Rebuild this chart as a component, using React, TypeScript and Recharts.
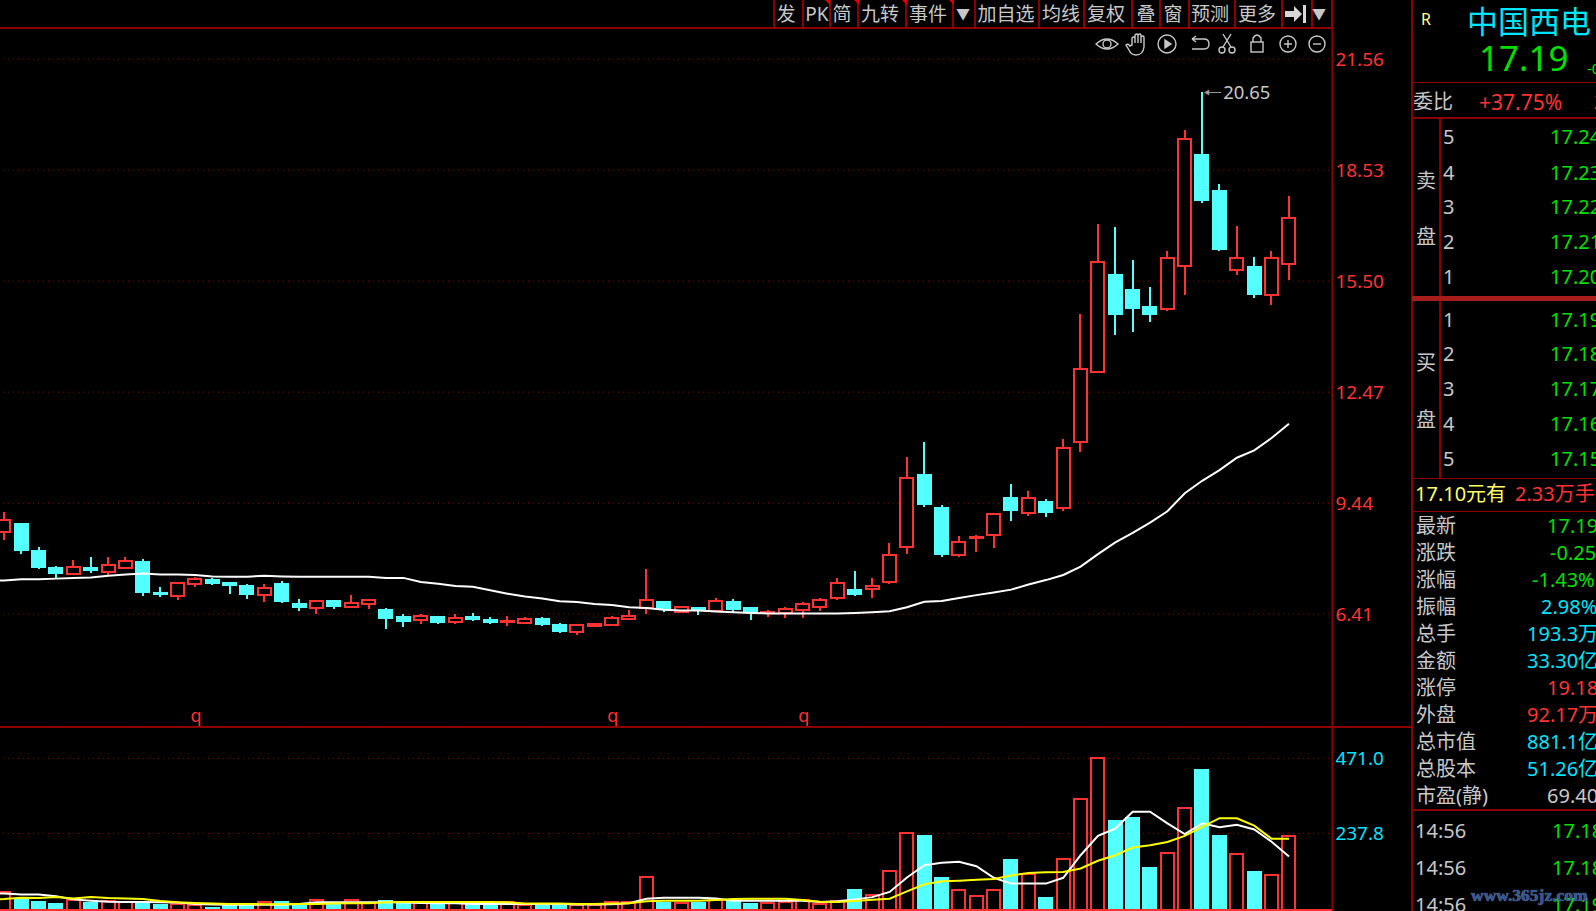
import { Bar, CartesianGrid, ComposedChart, Line, ReferenceDot, ReferenceLine, XAxis, YAxis } from "recharts";

const RED = "#ff3232";
const CYAN = "#54ffff";
const AXIS = "#8c0000";
const GREY = "#c8c8c8";
const GREEN = "#00e000";
const QUOTE_CYAN = "#00e5ff";
const FONT = "'Noto Sans', 'Noto Sans CJK SC', sans-serif";

// daily prices, oldest first
const opens = [8.64, 8.90, 8.17, 7.70, 7.51, 7.70, 7.57, 7.67, 7.87, 7.02, 6.91, 7.24, 7.37, 7.29, 7.21, 6.94, 7.27, 6.72, 6.58, 6.80, 6.61, 6.69, 6.56, 6.36, 6.25, 6.36, 6.20, 6.36, 6.28, 6.20, 6.17, 6.31, 6.15, 5.93, 6.09, 6.12, 6.28, 6.58, 6.77, 6.46, 6.61, 6.50, 6.77, 6.61, 6.45, 6.45, 6.53, 6.61, 6.86, 7.10, 7.10, 7.30, 8.25, 10.24, 9.33, 8.03, 8.50, 8.56, 9.60, 9.17, 9.51, 9.32, 11.12, 13.02, 15.70, 15.29, 14.82, 14.75, 15.90, 18.98, 18.00, 15.81, 15.90, 15.13, 15.98];
const closes = [8.98, 8.14, 7.67, 7.51, 7.70, 7.59, 7.76, 7.87, 6.99, 6.94, 7.27, 7.37, 7.24, 7.18, 6.94, 7.13, 6.75, 6.58, 6.77, 6.61, 6.72, 6.80, 6.28, 6.20, 6.36, 6.17, 6.31, 6.26, 6.17, 6.23, 6.28, 6.12, 5.93, 6.12, 6.15, 6.31, 6.36, 6.80, 6.56, 6.61, 6.50, 6.77, 6.53, 6.45, 6.47, 6.56, 6.69, 6.80, 7.27, 6.94, 7.18, 8.02, 10.14, 9.38, 8.02, 8.39, 8.51, 9.14, 9.22, 9.58, 9.16, 10.94, 13.10, 16.01, 14.57, 14.74, 14.57, 16.13, 19.38, 17.68, 16.35, 16.13, 15.12, 16.13, 17.22];
const highs = [9.19, 8.90, 8.25, 7.73, 7.89, 7.97, 7.97, 7.97, 7.92, 7.16, 7.27, 7.43, 7.40, 7.29, 7.24, 7.24, 7.32, 6.83, 6.77, 6.80, 6.94, 6.83, 6.58, 6.42, 6.42, 6.36, 6.42, 6.45, 6.34, 6.36, 6.34, 6.34, 6.17, 6.12, 6.17, 6.36, 6.53, 7.65, 6.77, 6.61, 6.61, 6.86, 6.83, 6.61, 6.53, 6.61, 6.75, 6.86, 7.40, 7.59, 7.41, 8.34, 10.69, 11.12, 9.40, 8.55, 8.57, 9.14, 9.95, 9.78, 9.56, 11.20, 14.61, 17.07, 16.99, 16.09, 15.35, 16.33, 19.63, 20.65, 18.14, 17.01, 16.17, 16.33, 17.83];
const lows = [8.44, 8.06, 7.65, 7.40, 7.48, 7.54, 7.48, 7.65, 6.91, 6.88, 6.80, 7.16, 7.21, 6.96, 6.83, 6.75, 6.72, 6.50, 6.42, 6.56, 6.58, 6.56, 6.01, 6.06, 6.15, 6.15, 6.15, 6.23, 6.15, 6.09, 6.15, 6.09, 5.90, 5.85, 6.06, 6.09, 6.26, 6.42, 6.47, 6.43, 6.39, 6.46, 6.47, 6.26, 6.34, 6.31, 6.31, 6.50, 6.80, 6.91, 6.85, 7.22, 8.05, 9.34, 7.98, 7.98, 8.12, 8.21, 8.96, 9.10, 9.05, 9.22, 10.83, 12.98, 14.02, 14.12, 14.38, 14.68, 15.12, 17.63, 16.31, 15.66, 15.04, 14.84, 15.52];
const priceMa = [7.33, 7.36, 7.36, 7.38, 7.40, 7.41, 7.46, 7.49, 7.52, 7.49, 7.49, 7.48, 7.44, 7.43, 7.43, 7.46, 7.44, 7.43, 7.43, 7.43, 7.43, 7.43, 7.40, 7.40, 7.29, 7.24, 7.18, 7.16, 7.06, 6.97, 6.89, 6.84, 6.76, 6.74, 6.69, 6.66, 6.60, 6.58, 6.53, 6.51, 6.51, 6.48, 6.46, 6.44, 6.43, 6.43, 6.43, 6.43, 6.43, 6.44, 6.46, 6.49, 6.60, 6.75, 6.77, 6.85, 6.93, 7.00, 7.08, 7.22, 7.34, 7.48, 7.71, 8.05, 8.37, 8.63, 8.91, 9.22, 9.71, 10.05, 10.34, 10.68, 10.88, 11.22, 11.61];

const volumes = [57, 34, 29, 22, 30, 26, 29, 24, 24, 20, 18, 16, 9, 15, 15, 26, 27, 18, 30, 19, 30, 23, 30, 23, 24, 19, 21, 18, 18, 26, 17, 17, 17, 17, 17, 26, 26, 102, 25, 21, 25, 30, 31, 23, 21, 26, 30, 18, 29, 65, 46, 122, 240, 232, 104, 63, 44, 63, 158, 112, 40, 159, 346, 473, 279, 289, 133, 178, 318, 438, 232, 174, 121, 109, 230];
const volMa5 = [51, 48, 48, 43, 33, 29, 26, 25, 25, 24, 23, 19, 17, 16, 16, 16, 16, 19, 24, 24, 24, 24, 24, 23, 22, 21, 21, 19, 19, 19, 19, 19, 19, 17, 17, 18, 21, 35, 38, 38, 38, 36, 29, 29, 29, 29, 29, 25, 27, 33, 40, 56, 101, 139, 147, 150, 136, 100, 82, 82, 82, 100, 170, 230, 253, 305, 305, 269, 236, 269, 257, 265, 250, 212, 166];
const volMa10 = [34, 38, 37, 40, 36, 40, 37, 36, 34, 28, 24, 22, 20, 19, 19, 18, 18, 19, 19, 20, 21, 21, 24, 25, 25, 25, 25, 25, 25, 24, 20, 20, 20, 19, 19, 20, 21, 27, 29, 29, 29, 31, 34, 35, 35, 35, 31, 26, 25, 28, 32, 35, 58, 80, 89, 91, 94, 96, 107, 115, 117, 118, 129, 153, 170, 194, 201, 211, 230, 258, 285, 285, 262, 221, 221];

const priceTicks = [6.41, 9.44, 12.47, 15.5, 18.53, 21.56];
const volumeTicks = [237.8, 471.0];
const eventDays = [11, 35, 46];
const EVENT_LEVEL = 3.63;
const HIGH_DAY = 69;
const HIGH_PRICE = 20.65;

// the averages run in from the day just off the left edge, and the terminal
// leaves two empty slots right of the last candle
const rows = [
    { day: -1, ma: 7.32, vol5: 52, vol10: 33 },
    ...opens.map((open, i) => ({
        day: i,
        open,
        close: closes[i],
        range: [lows[i], highs[i]],
        ma: priceMa[i],
        volume: volumes[i],
        vol5: volMa5[i],
        vol10: volMa10[i],
    })),
    { day: 75 },
    { day: 76 },
];

const toolbarItems = [
    { text: "发", x: 786 },
    { text: "PK", x: 817, flag: 828 },
    { text: "简", x: 842, flag: 857 },
    { text: "九转", x: 880, flag: 905 },
    { text: "事件", x: 928, flag: 952 },
    { text: "▼", x: 963, small: true },
    { text: "加自选", x: 1006 },
    { text: "均线", x: 1061 },
    { text: "复权", x: 1106 },
    { text: "叠", x: 1146 },
    { text: "窗", x: 1173 },
    { text: "预测", x: 1210 },
    { text: "更多", x: 1257 },
    { text: "▼", x: 1319, small: true },
];
const toolbarSeparators = [774, 803, 830, 858, 906, 953, 975, 1039, 1084, 1132, 1160, 1189, 1235, 1282, 1312, 1332];

const askLevels = [
    { n: "5", price: "17.24", y: 137 },
    { n: "4", price: "17.23", y: 173 },
    { n: "3", price: "17.22", y: 207 },
    { n: "2", price: "17.21", y: 242 },
    { n: "1", price: "17.20", y: 277 },
];
const bidLevels = [
    { n: "1", price: "17.19", y: 320 },
    { n: "2", price: "17.18", y: 354 },
    { n: "3", price: "17.17", y: 389 },
    { n: "4", price: "17.16", y: 424 },
    { n: "5", price: "17.15", y: 459 },
];
const quoteRows = [
    { name: "最新", value: "17.19", x: 1547, color: GREEN, y: 526 },
    { name: "涨跌", value: "-0.25", x: 1550, color: GREEN, y: 553 },
    { name: "涨幅", value: "-1.43%", x: 1532, color: GREEN, y: 580 },
    { name: "振幅", value: "2.98%", x: 1541, color: QUOTE_CYAN, y: 607 },
    { name: "总手", value: "193.3万", x: 1527, color: QUOTE_CYAN, y: 634 },
    { name: "金额", value: "33.30亿", x: 1527, color: QUOTE_CYAN, y: 661 },
    { name: "涨停", value: "19.18", x: 1547, color: RED, y: 688 },
    { name: "外盘", value: "92.17万", x: 1527, color: RED, y: 715 },
    { name: "总市值", value: "881.1亿", x: 1527, color: QUOTE_CYAN, y: 742 },
    { name: "总股本", value: "51.26亿", x: 1527, color: QUOTE_CYAN, y: 769 },
    { name: "市盈(静)", value: "69.40", x: 1547, color: GREY, y: 796 },
];
const tradeRows = [
    { time: "14:56", price: "17.18", y: 831 },
    { time: "14:56", price: "17.18", y: 868 },
    { time: "14:56", price: "17.19", y: 905 },
];
const panelRules = [
    { y: 82, h: 1, color: AXIS },
    { y: 117, h: 2, color: AXIS },
    { y: 296, h: 5, color: "#a81c1c" },
    { y: 478, h: 1, color: AXIS },
    { y: 511, h: 1, color: AXIS },
    { y: 809, h: 2, color: AXIS },
];

function Candle(props: any) {
    const { x, y, width, height, payload } = props;
    if (!payload || !payload.range || !height) return null;
    const [low, high] = payload.range;
    const pxPerUnit = height / (high - low);
    const up = payload.close >= payload.open;
    const color = up ? RED : CYAN;
    const top = y + (high - Math.max(payload.open, payload.close)) * pxPerUnit;
    const bodyH = Math.abs(payload.close - payload.open) * pxPerUnit;
    const mid = Math.round(x + width / 2);
    return (
        <g shapeRendering="crispEdges">
            <rect x={mid - 1} y={y} width={2} height={height} fill={color} />
            {up ? (
                <rect x={x + 1} y={top} width={width - 2} height={bodyH} fill="#000" stroke={color} strokeWidth={2} />
            ) : (
                <rect x={x} y={top} width={width} height={bodyH} fill={color} />
            )}
        </g>
    );
}

function VolumeBar(props: any) {
    const { x, y, width, height, payload } = props;
    if (!payload || payload.volume === undefined) return null;
    if (payload.close >= payload.open) {
        return <rect x={x + 1} y={y} width={width - 2} height={height} fill="#000" stroke={RED} strokeWidth={2} shapeRendering="crispEdges" />;
    }
    return <rect x={x} y={y} width={width} height={height} fill={CYAN} shapeRendering="crispEdges" />;
}

function HighNote({ cx, cy }: any) {
    return (
        <g>
            <line x1={cx + 3} y1={cy} x2={cx + 19} y2={cy} stroke="#9a9a9a" strokeWidth={1} />
            <path d={`M${cx + 2} ${cy} l5 -3 v6 z`} fill="#9a9a9a" />
            <text x={cx + 21} y={cy} dy="0.36em" fill={GREY} fontSize={18.5}>
                {HIGH_PRICE.toFixed(2)}
            </text>
        </g>
    );
}

function EventMark({ cx, cy }: any) {
    return (
        <text x={cx + 1} y={cy + 2} textAnchor="middle" dy="0.2em" fill={RED} fontSize={18}>
            q
        </text>
    );
}

function Txt({ x, y, size = 20, color = GREY, children, weight }: any) {
    return (
        <span
            style={{
                position: "absolute",
                left: x,
                top: y,
                transform: "translateY(-50%)",
                fontSize: size,
                color,
                fontWeight: weight,
                lineHeight: 1,
                whiteSpace: "nowrap",
            }}
        >
            {children}
        </span>
    );
}

function Box({ x, y, w, h, color = AXIS }: any) {
    return <div style={{ position: "absolute", left: x, top: y, width: w, height: h, background: color }} />;
}

function Toolbar() {
    return (
        <>
            <Box x={0} y={27} w={1332} h={2} />
            {toolbarSeparators.map((x) => (
                <Box key={x} x={x - 1} y={0} w={2} h={28} />
            ))}
            {toolbarItems.map((item, i) => (
                <span
                    key={i}
                    style={{
                        position: "absolute",
                        left: item.x,
                        top: 14,
                        transform: "translate(-50%, -50%)",
                        fontSize: item.small ? 14 : 19,
                        color: GREY,
                        lineHeight: 1,
                        whiteSpace: "nowrap",
                    }}
                >
                    {item.text}
                </span>
            ))}
            {toolbarItems.filter((item) => item.flag).map((item) => (
                <div
                    key={item.flag}
                    style={{
                        position: "absolute",
                        left: (item.flag as number) - 3,
                        top: 0,
                        width: 5,
                        height: 5,
                        background: "#e00000",
                        clipPath: "polygon(0 0, 100% 0, 100% 100%)",
                    }}
                />
            ))}
            <svg style={{ position: "absolute", left: 1284, top: 4, width: 24, height: 20 }}>
                <path d="M1 7 h9 v-5 l8 8 l-8 8 v-5 h-9 z" fill="#d8d8d8" />
                <rect x={19} y={1} width={3} height={18} fill="#d8d8d8" />
            </svg>
            <svg style={{ position: "absolute", left: 1095, top: 32, width: 236, height: 24 }} fill="none" stroke={GREY} strokeWidth={1.4}>
                <path d="M1 12 q11 -10 22 0 q-11 10 -22 0 z" />
                <circle cx={12} cy={12} r={4} />
                <path d="M37 13 v-7 q2 -2 3 0 v5 v-8 q2 -2 3 0 v8 v-8 q2 -2 3 0 v8 v-6 q2 -2 3 0 v10 q-1 8 -8 8 q-5 0 -7 -5 l-3 -5 q2 -2 4 1 z" />
                <circle cx={72} cy={12} r={9} />
                <path d="M70 8 l6 4 l-6 4 z" fill={GREY} />
                <path d="M97 7 h12 q5 0 5 5 q0 5 -5 5 h-12 M97 7 l4 -3 M97 7 l4 3" />
                <circle cx={127} cy={18} r={3} />
                <circle cx={137} cy={18} r={3} />
                <path d="M128 15 l8 -13 M136 15 l-8 -13" />
                <rect x={156} y={10} width={12} height={10} />
                <path d="M158 10 v-4 q4 -6 8 0 v4" />
                <circle cx={193} cy={12} r={8} />
                <path d="M189 12 h8 M193 8 v8" />
                <circle cx={222} cy={12} r={8} />
                <path d="M218 12 h8" />
            </svg>
        </>
    );
}

function QuotePanel() {
    return (
        <>
            <Box x={1411} y={0} w={2} h={911} />
            <Box x={1439} y={118} w={2} h={360} />
            {panelRules.map((rule) => (
                <Box key={rule.y} x={1412} y={rule.y} w={184} h={rule.h} color={rule.color} />
            ))}
            <Txt x={1421} y={19} size={16} color="#ffff99">R</Txt>
            <Txt x={1467} y={21} size={31} color={QUOTE_CYAN}>中国西电</Txt>
            <Txt x={1479} y={57} size={35} color={GREEN}>17.19</Txt>
            <Txt x={1587} y={68} size={15} color={GREEN}>-0.25</Txt>
            <Txt x={1413} y={102}>委比</Txt>
            <Txt x={1479} y={102} size={21} color={RED}>+37.75%</Txt>
            <Txt x={1594} y={102} color={RED}>2</Txt>
            <Txt x={1416} y={181}>卖</Txt>
            <Txt x={1416} y={237}>盘</Txt>
            <Txt x={1416} y={363}>买</Txt>
            <Txt x={1416} y={420}>盘</Txt>
            {[...askLevels, ...bidLevels].map((level) => (
                <span key={level.y}>
                    <Txt x={1443} y={level.y}>{level.n}</Txt>
                    <Txt x={1550} y={level.y} color={GREEN}>{level.price}</Txt>
                </span>
            ))}
            <Txt x={1415} y={494} color="#ffff66">17.10元有</Txt>
            <Txt x={1515} y={494} color={RED}>2.33万手</Txt>
            {quoteRows.map((row) => (
                <span key={row.name}>
                    <Txt x={1416} y={row.y}>{row.name}</Txt>
                    <Txt x={row.x} y={row.y} color={row.color}>{row.value}</Txt>
                </span>
            ))}
            {tradeRows.map((row) => (
                <span key={row.y}>
                    <Txt x={1415} y={row.y}>{row.time}</Txt>
                    <Txt x={1552} y={row.y} color={GREEN}>{row.price}</Txt>
                </span>
            ))}
            <span
                style={{
                    position: "absolute",
                    left: 1471,
                    top: 896,
                    transform: "translateY(-50%)",
                    fontFamily: "'Liberation Serif', serif",
                    fontWeight: 700,
                    fontSize: 17.5,
                    lineHeight: 1,
                    color: "#2f5596",
                    textShadow: "0 0 1px #9db4d8",
                    whiteSpace: "nowrap",
                }}
            >
                www.365jz.com
            </span>
        </>
    );
}

export default function App() {
    return (
        <div style={{ position: "absolute", left: 0, top: 0, width: 1596, height: 911, overflow: "hidden", background: "#000", fontFamily: FONT }}>
            <div style={{ position: "absolute", left: -22.04, top: 28 }}>
                <ComposedChart width={1434.4} height={699} data={rows} margin={{ top: 0, right: 0, bottom: 0, left: 0 }} barSize={15}>
                    <CartesianGrid vertical={false} stroke={AXIS} strokeDasharray="1 4" />
                    <XAxis dataKey="day" type="category" hide />
                    <YAxis
                        orientation="right"
                        width={80}
                        domain={[3.33, 22.41]}
                        ticks={priceTicks}
                        tickFormatter={(v: number) => v.toFixed(2)}
                        tick={{ fill: RED, fontSize: 19 }}
                        tickSize={0}
                        tickMargin={3}
                        tickLine={false}
                        axisLine={{ stroke: AXIS, strokeWidth: 2 }}
                        allowDataOverflow
                    />
                    <Bar dataKey="range" shape={Candle} isAnimationActive={false} />
                    <Line dataKey="ma" stroke="#fff" strokeWidth={2} dot={false} activeDot={false} isAnimationActive={false} />
                    <ReferenceDot x={HIGH_DAY} y={HIGH_PRICE} r={0} shape={HighNote} />
                    {eventDays.map((day) => (
                        <ReferenceDot key={day} x={day} y={EVENT_LEVEL} r={0} shape={EventMark} />
                    ))}
                </ComposedChart>
            </div>
            <Box x={0} y={726} w={1412} h={2} />
            <div style={{ position: "absolute", left: -22.04, top: 727 }}>
                <ComposedChart width={1434.4} height={184} data={rows} margin={{ top: 0, right: 0, bottom: 1, left: 0 }} barSize={15}>
                    <CartesianGrid vertical={false} stroke={AXIS} strokeDasharray="1 4" />
                    <XAxis dataKey="day" type="category" hide />
                    <YAxis
                        orientation="right"
                        width={80}
                        domain={[0, 568.3]}
                        ticks={volumeTicks}
                        tickFormatter={(v: number) => v.toFixed(1)}
                        tick={{ fill: QUOTE_CYAN, fontSize: 19 }}
                        tickSize={0}
                        tickMargin={3}
                        tickLine={false}
                        axisLine={{ stroke: AXIS, strokeWidth: 2 }}
                        allowDataOverflow
                    />
                    <Bar dataKey="volume" shape={VolumeBar} isAnimationActive={false} />
                    <ReferenceLine y={0} stroke={RED} strokeWidth={2} />
                    <Line dataKey="vol5" stroke="#fff" strokeWidth={2} dot={false} activeDot={false} isAnimationActive={false} />
                    <Line dataKey="vol10" stroke="#ffff00" strokeWidth={2} dot={false} activeDot={false} isAnimationActive={false} />
                </ComposedChart>
            </div>
            <Toolbar />
            <QuotePanel />
        </div>
    );
}
